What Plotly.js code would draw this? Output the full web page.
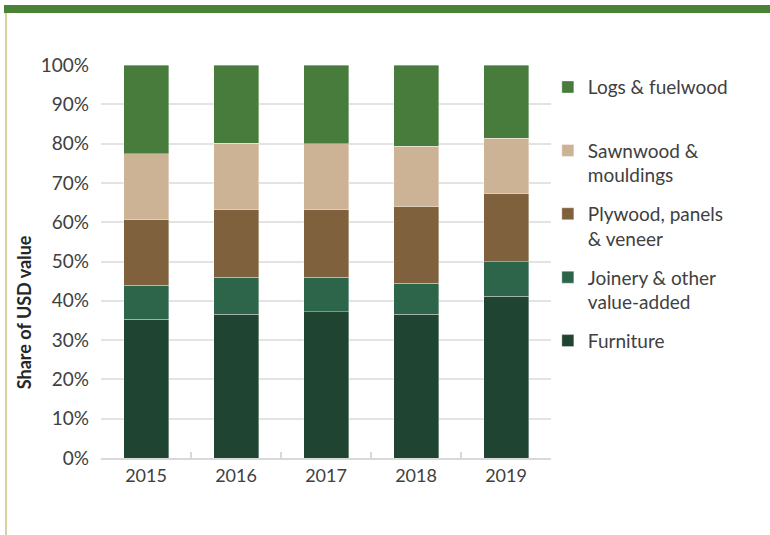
<!DOCTYPE html>
<html>
<head>
<meta charset="utf-8">
<script src="https://cdn.plot.ly/plotly-3.0.1.min.js"></script>
<style>
  html, body { margin: 0; padding: 0; background: #fff; }
  #wrap { position: relative; width: 770px; height: 535px; }
  #chart { width: 770px; height: 535px; }
  #topbar { position: absolute; left: 4px; top: 5px; width: 766px; height: 8px; background: #4a8236; pointer-events: none; }
  #leftbar { position: absolute; left: 5px; top: 13px; width: 2px; height: 522px; background: #d9d09f; pointer-events: none; }
</style>
</head>
<body>
<div id="wrap">
  <div id="chart"></div>
  <div id="topbar"></div>
  <div id="leftbar"></div>
</div>
<script>
const years = ['2015', '2016', '2017', '2018', '2019'];
const furniture = [35.3, 36.6, 37.2, 36.6, 41.1];
const joinery   = [8.6, 9.4, 8.8, 7.9, 8.8];
const plywood   = [16.7, 17.2, 17.2, 19.4, 17.3];
const sawnwood  = [16.8, 16.9, 16.8, 15.4, 14.1];
const logs      = [22.6, 19.9, 20.0, 20.7, 18.7];

const seriesNames = [
  'Furniture',
  'Joinery & other<br>value-added',
  'Plywood, panels<br>& veneer',
  'Sawnwood &<br>mouldings',
  'Logs & fuelwood<br> '
];
const seriesValues = [furniture, joinery, plywood, sawnwood, logs];
const seriesColors = ['#1f4431', '#2d654a', '#7f613e', '#cdb395', '#477c3c'];

const traces = seriesValues.map((vals, i) => ({
  type: 'bar',
  name: seriesNames[i],
  legendgroup: 'g' + i,
  legendrank: 1000 - i,
  x: years,
  y: vals,
  width: 0.5,
  marker: { color: seriesColors[i], line: { color: 'rgba(255,255,255,0.6)', width: 0.6 } },
  hoverinfo: 'x+y'
}));

const font = 'Lato, sans-serif';
const layout = {
  width: 770,
  height: 535,
  barmode: 'stack',
  margin: { l: 101, r: 219, t: 65, b: 77 },
  paper_bgcolor: '#ffffff',
  plot_bgcolor: '#ffffff',
  font: { family: font, color: '#404040', size: 17 },
  showlegend: true,
  legend: {
    traceorder: 'grouped',
    x: 0.993, xanchor: 'left',
    y: 0.992, yanchor: 'top',
    valign: 'top',
    font: { family: font, size: 19, color: '#404040' },
    itemwidth: 30,
    tracegroupgap: 11,
    bgcolor: 'rgba(0,0,0,0)'
  },
  xaxis: {
    type: 'category',
    tickson: 'boundaries',
    ticks: 'inside',
    ticklen: 6,
    tickwidth: 2,
    tickcolor: '#d9d9d9',
    showline: true,
    linecolor: '#d9d9d9',
    linewidth: 2,
    showgrid: false,
    tickfont: { family: font, size: 18, color: '#404040' },
    fixedrange: true
  },
  yaxis: {
    range: [0, 100],
    tickvals: [0, 10, 20, 30, 40, 50, 60, 70, 80, 90, 100],
    ticktext: ['0%', '10%', '20%', '30%', '40%', '50%', '60%', '70%', '80%', '90%', '100%'],
    showgrid: true,
    gridcolor: '#e3e3e3',
    gridwidth: 2,
    zeroline: false,
    ticks: '',
    ticklabelstandoff: 11,
    tickfont: { family: font, size: 19, color: '#404040' },
    fixedrange: true
  },
  annotations: [{
    text: '<b>Share of USD value</b>',
    textangle: -90,
    xref: 'paper', yref: 'paper',
    x: -0.172, y: 0.37,
    xanchor: 'center', yanchor: 'middle',
    showarrow: false,
    font: { family: font, size: 18, color: '#262626' }
  }]
};

Plotly.newPlot('chart', traces, layout, { displayModeBar: false, staticPlot: true });
</script>
</body>
</html>
